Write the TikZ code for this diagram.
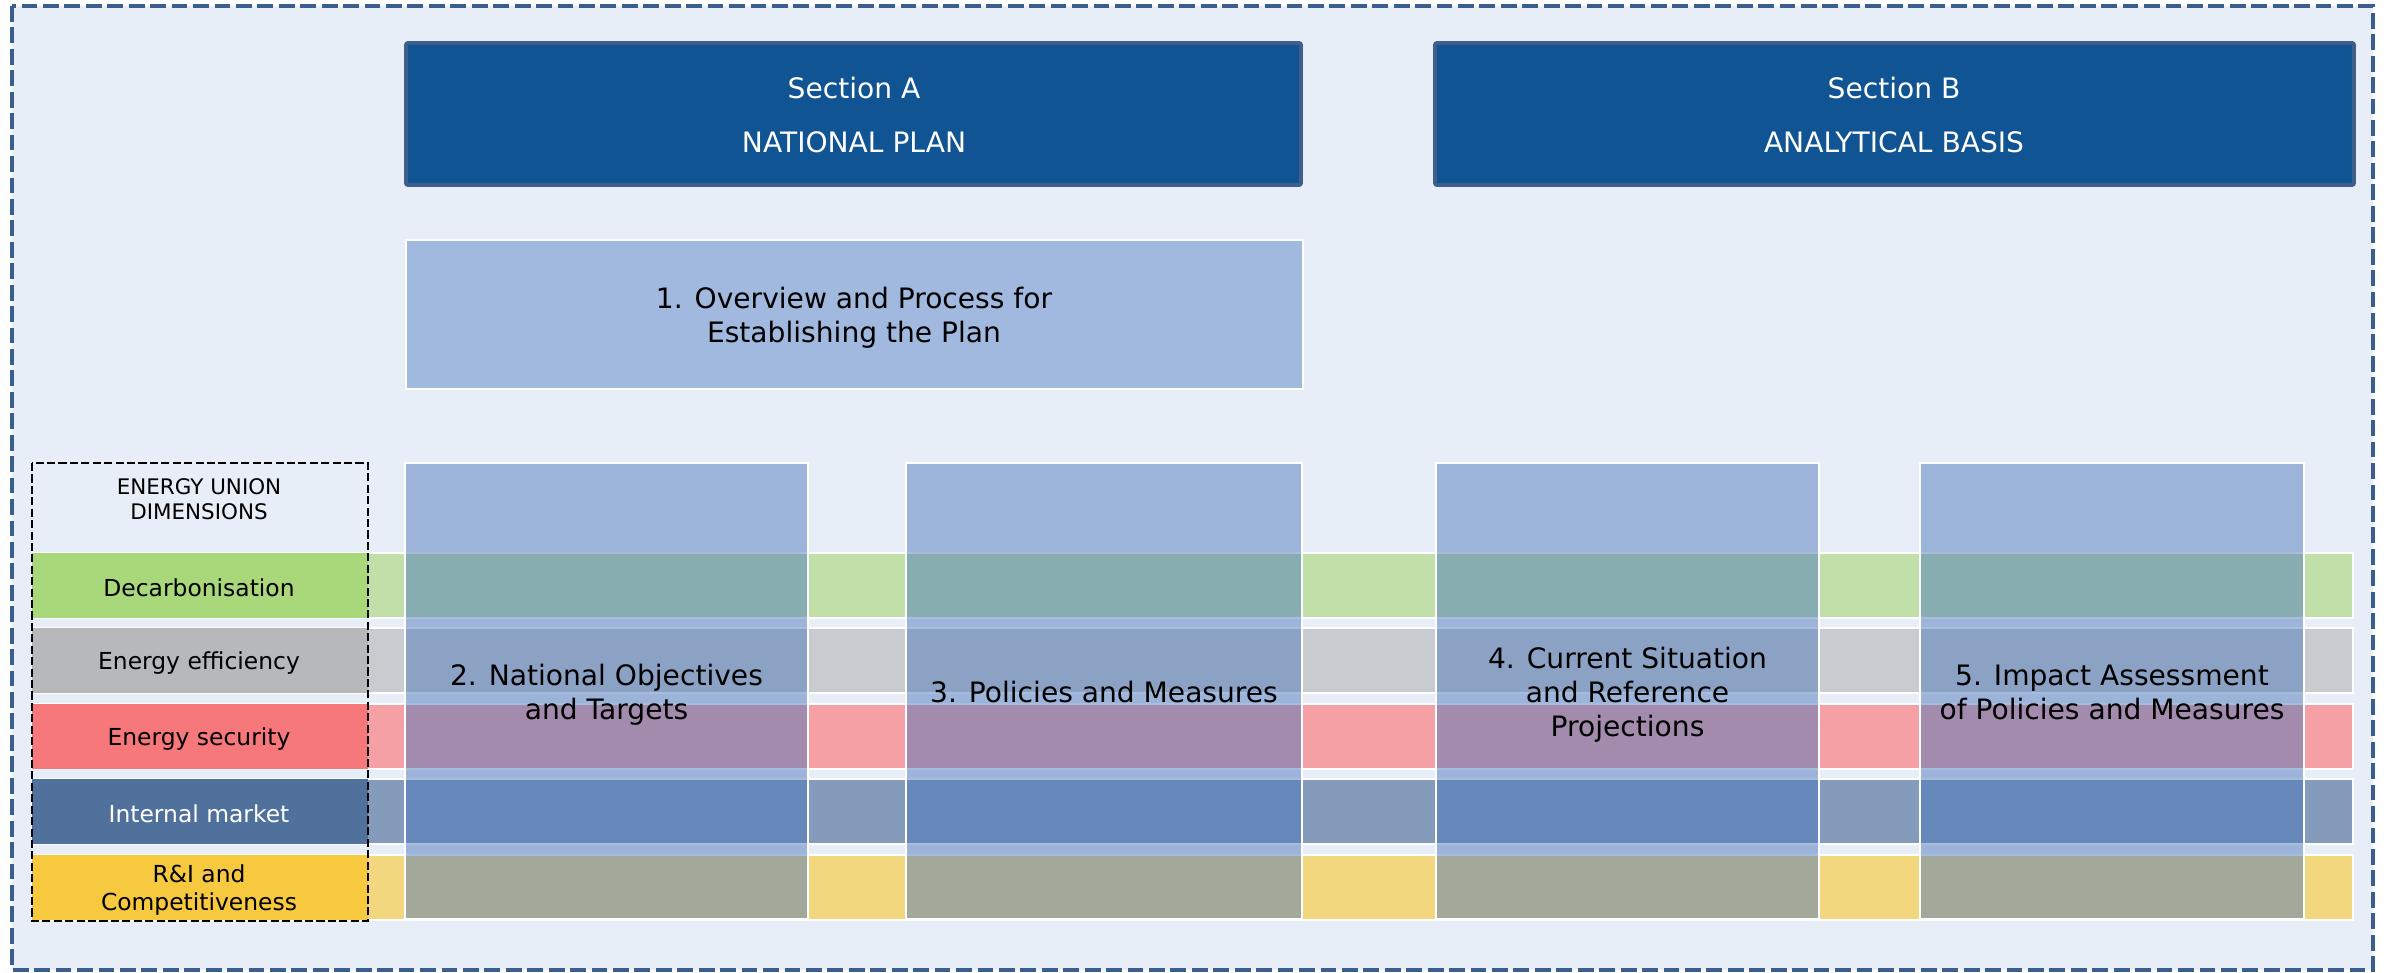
\documentclass[tikz,border=0pt]{standalone}
\usepackage{fontspec}
\setmainfont{DejaVu Sans}
\usepackage{xcolor}

\begin{document}
\begin{tikzpicture}[x=0.1mm, y=-0.1mm]
        % Define colors
        \definecolor{canvas}{RGB}{232,238,248}
        \definecolor{frame}{RGB}{58,94,142}
        \definecolor{secfill}{RGB}{16,84,148}
        \definecolor{secedge}{RGB}{62,94,140}
        \definecolor{overview}{RGB}{161,185,222}
        \definecolor{chapter}{RGB}{72,116,186}
        \definecolor{decarb}{RGB}{169,216,122}
        \definecolor{decarbL}{RGB}{193,224,169}
        \definecolor{effic}{RGB}{183,184,186}
        \definecolor{efficL}{RGB}{200,203,207}
        \definecolor{secur}{RGB}{247,120,122}
        \definecolor{securL}{RGB}{244,160,164}
        \definecolor{market}{RGB}{81,113,157}
        \definecolor{marketL}{RGB}{132,155,187}
        \definecolor{innov}{RGB}{247,201,62}
        \definecolor{innovL}{RGB}{242,215,127}

        \useasboundingbox (0,0) rectangle (2389,972);

        % Outer frame
        \fill[canvas] (12,6) rectangle (2373,970);
        \draw[frame, line width=1.1pt, dash pattern=on 4.5pt off 1.6pt] (12,6) rectangle (2373,970);

        % Section headers
        \filldraw[fill=secfill, draw=secedge, line width=1.1pt, rounded corners=0.6pt] (406,43) rectangle (1301,185);
        \filldraw[fill=secfill, draw=secedge, line width=1.1pt, rounded corners=0.6pt] (1435,43) rectangle (2354,185);
        \node[align=center, text=white, font=\fontsize{8}{15.1}\selectfont] (secA) at (854,115) {Section A\\NATIONAL PLAN};
        \node[align=center, text=white, font=\fontsize{8}{15.1}\selectfont] (secB) at (1894,115) {Section B\\ANALYTICAL BASIS};

        % Overview box
        \filldraw[fill=overview, draw=white, line width=0.6pt] (406,240) rectangle (1303,389);
        \node[align=center, font=\fontsize{8}{9.7}\selectfont] (overview) at (854,318) {1. Overview and Process for\\Establishing the Plan};

        % Dimension rows
        \foreach \y/\sat/\lite/\ink/\lbl in {553/decarb/decarbL/black/Decarbonisation,
                628/effic/efficL/black/Energy efficiency,
                704/secur/securL/black/Energy security,
                779/market/marketL/white/Internal market,
                855/innov/innovL/black/{R\&I and\\Competitiveness}} {
                        \filldraw[fill=\lite, draw=white, line width=0.6pt] (32,\y) rectangle (2353,\y+65);
                        \fill[\sat] (32,\y) rectangle (368,\y+65);
                        \node[align=center, text=\ink, font=\fontsize{6.66}{8.2}\selectfont] (dim\y) at (199,\y+35) {\lbl};
            }

        % Chapters laid over the rows
        \foreach \xa/\xb/\ty/\tag/\txt in {405/808/695/obj/{2. National Objectives\\and Targets},
                906/1302/692/pam/{3. Policies and Measures},
                1436/1819/695/cur/{4. Current Situation\\and Reference\\Projections},
                1920/2304/692/imp/{5. Impact Assessment\\of Policies and Measures}} {
                        \filldraw[fill=chapter, fill opacity=0.47, draw=white, line width=0.6pt] (\xa,463) rectangle (\xb,919);
                        \node[align=center, font=\fontsize{8}{9.7}\selectfont] (ch\tag) at ({(\xa+\xb)/2},\ty) {\txt};
            }

        % Legend of the dimensions
        \draw[black, line width=0.5pt, dash pattern=on 2.3pt off 0.95pt] (32,463) rectangle (368,921);
        \node[align=center, font=\fontsize{6.1}{7.1}\selectfont] (dims) at (199,499) {ENERGY UNION\\DIMENSIONS};

    \end{tikzpicture}
\end{document}
